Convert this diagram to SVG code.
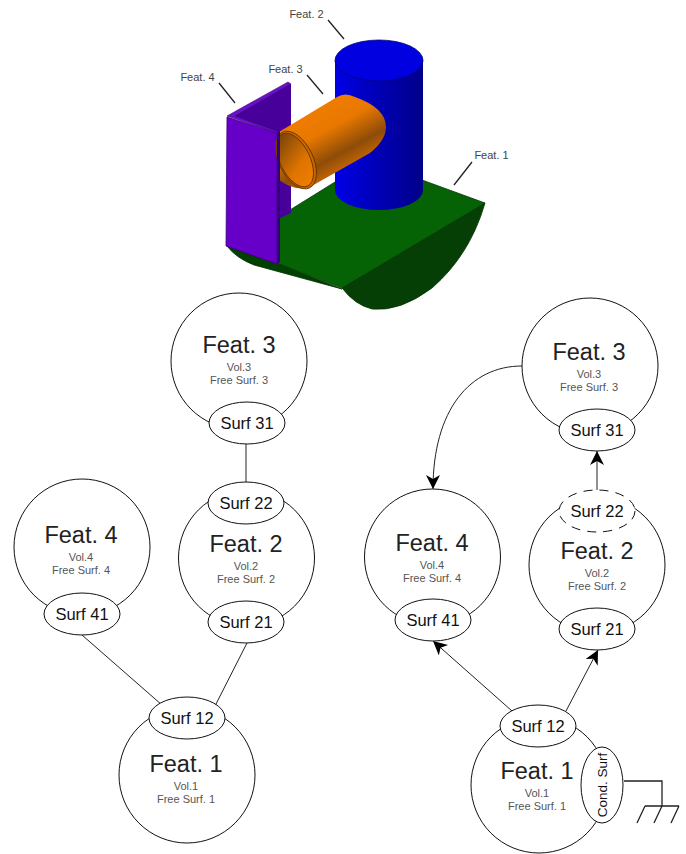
<svg xmlns="http://www.w3.org/2000/svg" width="686" height="854" viewBox="0 0 686 854">
<style>
text{font-family:"Liberation Sans",Arial,sans-serif;text-anchor:middle}
.c{fill:#fff;stroke:#111;stroke-width:1}
.e{fill:#fff;stroke:#111;stroke-width:1}
.d{stroke-dasharray:9 7}
.t{font-size:23.5px;fill:#222}
.s{font-size:16.5px;fill:#111}
.v{font-size:11px;fill:#555}
.l{font-size:11px;fill:#444}
.k{stroke:#222;stroke-width:1.3;fill:none}
.w{stroke:#222;stroke-width:1;fill:none}
.a{marker-end:url(#arr)}
</style>
<defs>
<marker id="arr" markerUnits="userSpaceOnUse" markerWidth="15" markerHeight="15" refX="14" refY="7" orient="auto"><path d="M0,0 L14,7 L0,14 L4,7 Z" fill="#000"/></marker>
<linearGradient id="blue" x1="0" x2="1" y1="0" y2="0"><stop offset="0" stop-color="#0000e6"/><stop offset=".5" stop-color="#0000b4"/><stop offset="1" stop-color="#000088"/></linearGradient>
<linearGradient id="tube" gradientUnits="userSpaceOnUse" x1="325" y1="100" x2="362" y2="168"><stop offset="0" stop-color="#f07d00"/><stop offset=".35" stop-color="#e87800"/><stop offset=".7" stop-color="#8e4c08"/><stop offset="1" stop-color="#d97000"/></linearGradient>
<linearGradient id="inner" gradientUnits="userSpaceOnUse" x1="285" y1="135" x2="312" y2="185"><stop offset="0" stop-color="#7a4408"/><stop offset=".6" stop-color="#e07400"/><stop offset="1" stop-color="#f08000"/></linearGradient>
</defs>

<g id="model">
<path d="M227,246 Q236,258 254,265 L342,289 L277,263 Z" fill="#004000" stroke="#003000" stroke-width=".8"/>
<path d="M342,288 L485,203 Q470,255 432,288 Q400,312 372,309 Q355,305 342,288 Z" fill="#053f05" stroke="#003000" stroke-width=".8"/>
<path d="M277,218 L335,182 L422,180 L485,203 L342,288 L277,263 Z" fill="#056205" stroke="#033a03" stroke-width=".8"/>
<path d="M335,60 V190 A44,20 0 0 0 423,190 V60 Z" fill="url(#blue)"/>
<ellipse cx="379" cy="60.500" rx="44" ry="20.500" fill="#0000e0" stroke="#000080" stroke-width=".8"/>
<path d="M234,116 L288,84 L291,84 V213 L278,219 V133 Z" fill="#47009a"/>
<path d="M227,116 L288,82 L291,84 L235,116 L277,131 V133 Z" fill="#6a10c8" stroke="#3a0080" stroke-width=".6"/>
<path d="M277,133 L280,130 V262 L277,264 Z" fill="#36007a"/>
<path d="M227,117 L277,133 V264 L226,246 Z" fill="#6600c8" stroke="#3a0080" stroke-width=".8"/>
<path d="M279,132 L337,97 Q345,92 355,97 Q386,108 386,127 Q386,140 370,153 L310,187 Q296,192 279,180 Z" fill="url(#tube)"/>
<ellipse cx="296" cy="160" rx="17" ry="31" transform="rotate(-26 296 160)" fill="#c96800" stroke="#5a3000" stroke-width=".8"/>
<ellipse cx="295" cy="160" rx="15" ry="29" transform="rotate(-26 295 160)" fill="url(#inner)" stroke="#5a3000" stroke-width=".8"/>
<path d="M277,133 L280,131 V182 L277,180 Z" fill="#36007a"/>
<path d="M328,20 L344,39 M307,75 L323,94 M219,83 L235,103 M472,162 L454,185" stroke="#222" stroke-width="1.300" fill="none"/>
<text class="l" x="306.500" y="18">Feat. 2</text>
<text class="l" x="285.500" y="73">Feat. 3</text>
<text class="l" x="197.500" y="81">Feat. 4</text>
<text class="l" x="491.500" y="159">Feat. 1</text>
</g>

<g id="connectors">
<path class="w" d="M246,442 V484 M82,635 L162,705 M247,643 L215,706"/>
<path class="w a" d="M512,711 L433,641"/>
<path class="w a" d="M566,711 L598,650"/>
<path class="w a" d="M597,490 V451"/>
<path class="w a" d="M522,366 C470,366 433,410 433,489"/>
<path class="k" d="M624,781 H662 V806 M645,806 H679 M645,806 L637,823 M662,806 L654,823 M679,806 L671,823"/>
</g>

<g id="a-feat3"><circle class="c" cx="239" cy="361" r="68"/><text class="t" x="239" y="353">Feat. 3</text><text class="v" x="239" y="371">Vol.3</text><text class="v" x="239" y="384">Free Surf. 3</text></g>
<g id="a-surf31"><ellipse class="e" cx="247" cy="423" rx="38" ry="21"/><text class="s" x="247" y="429">Surf 31</text></g>
<g id="a-feat4"><circle class="c" cx="82" cy="547" r="68"/><text class="t" x="81" y="543">Feat. 4</text><text class="v" x="81" y="561">Vol.4</text><text class="v" x="81" y="574">Free Surf. 4</text></g>
<g id="a-surf41"><ellipse class="e" cx="82" cy="614" rx="38" ry="21"/><text class="s" x="82" y="620">Surf 41</text></g>
<g id="a-feat2"><circle class="c" cx="246.500" cy="558" r="68"/><text class="t" x="246" y="552">Feat. 2</text><text class="v" x="246" y="570">Vol.2</text><text class="v" x="246" y="583">Free Surf. 2</text></g>
<g id="a-surf22"><ellipse class="e" cx="246" cy="503" rx="38" ry="21"/><text class="s" x="246" y="509">Surf 22</text></g>
<g id="a-surf21"><ellipse class="e" cx="246" cy="622" rx="38" ry="21"/><text class="s" x="246" y="628">Surf 21</text></g>
<g id="a-feat1"><circle class="c" cx="187" cy="775" r="68"/><text class="t" x="186" y="772">Feat. 1</text><text class="v" x="186" y="790">Vol.1</text><text class="v" x="186" y="803">Free Surf. 1</text></g>
<g id="a-surf12"><ellipse class="e" cx="187" cy="718" rx="38" ry="21"/><text class="s" x="187" y="724">Surf 12</text></g>

<g id="b-feat3"><circle class="c" cx="590" cy="366" r="68"/><text class="t" x="589" y="360">Feat. 3</text><text class="v" x="589" y="378">Vol.3</text><text class="v" x="589" y="391">Free Surf. 3</text></g>
<g id="b-surf31"><ellipse class="e" cx="597" cy="430" rx="38" ry="21"/><text class="s" x="597" y="436">Surf 31</text></g>
<g id="b-feat4"><circle class="c" cx="432.500" cy="557" r="68"/><text class="t" x="432" y="551">Feat. 4</text><text class="v" x="432" y="569">Vol.4</text><text class="v" x="432" y="582">Free Surf. 4</text></g>
<g id="b-surf41"><ellipse class="e" cx="433" cy="620" rx="38" ry="21"/><text class="s" x="433" y="626">Surf 41</text></g>
<g id="b-feat2"><circle class="c" cx="597" cy="565" r="68"/><text class="t" x="597" y="559">Feat. 2</text><text class="v" x="597" y="577">Vol.2</text><text class="v" x="597" y="590">Free Surf. 2</text></g>
<g id="b-surf22"><ellipse class="e d" cx="597" cy="511" rx="38" ry="21"/><text class="s" x="597" y="517">Surf 22</text></g>
<g id="b-surf21"><ellipse class="e" cx="597" cy="629" rx="38" ry="21"/><text class="s" x="597" y="635">Surf 21</text></g>
<g id="b-feat1"><circle class="c" cx="539" cy="785" r="68"/><text class="t" x="537" y="779">Feat. 1</text><text class="v" x="537" y="797">Vol.1</text><text class="v" x="537" y="810">Free Surf. 1</text></g>
<g id="b-surf12"><ellipse class="e" cx="538" cy="726" rx="38" ry="21"/><text class="s" x="538" y="732">Surf 12</text></g>
<g id="b-cond"><ellipse class="e" cx="602" cy="785" rx="21" ry="38"/><text font-size="13.500" fill="#111" transform="translate(607,785) rotate(-90)">Cond. Surf</text></g>
</svg>
